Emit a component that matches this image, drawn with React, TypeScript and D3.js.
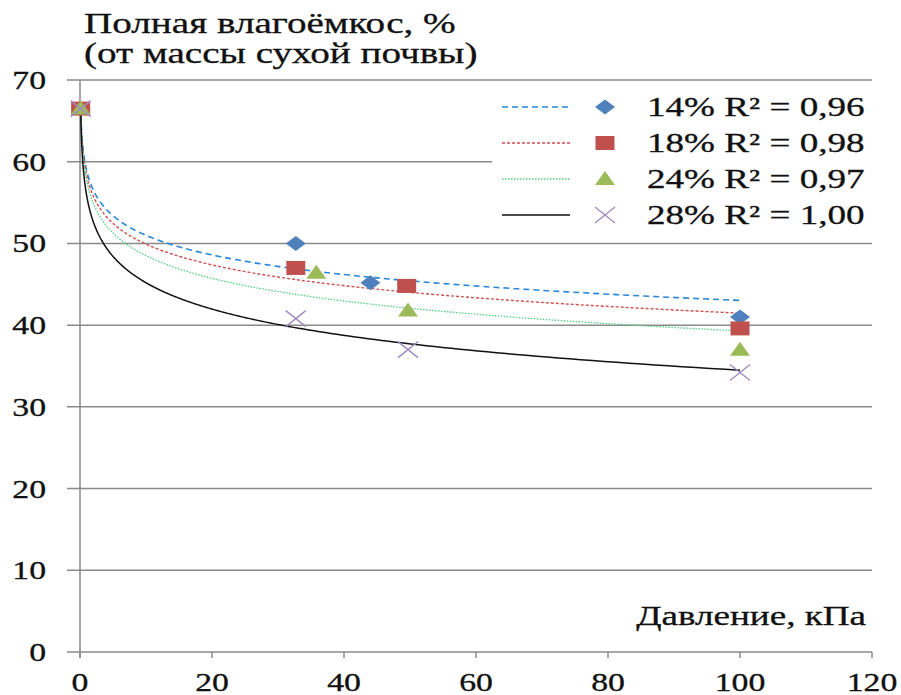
import * as d3 from 'd3'

// pressure, kPa (first point is the near-zero reading)
const pressure14 = [0.1, 32.7, 44, 100]
const pressure18 = [0.1, 32.7, 49.5, 100]
const pressure24 = [0.1, 35.8, 49.7, 100]
const pressure28 = [0.1, 32.7, 49.7, 100]

const moisture14 = [66.5, 50, 45.2, 41]
const moisture18 = [66.5, 47, 44.8, 39.6]
const moisture24 = [66.5, 46.4, 41.8, 37]
const moisture28 = [66.5, 40.8, 37, 34.2]

const seriesLabels = ['14%', '18%', '24%', '28%']
const r2Labels = ['R² = 0,96', 'R² = 0,98', 'R² = 0,97', 'R² = 1,00']
const xTicks = [0, 20, 40, 60, 80, 100, 120]
const yTicks = [0, 10, 20, 30, 40, 50, 60, 70]

const W = 901
const H = 695
const SX = 1.35 // source picture is stretched horizontally
const FONT = 'Liberation Serif, Times New Roman, serif'

type Series = {
  xs: number[]
  ys: number[]
  line: string
  dash: string
  width: number
  marker: 'diamond' | 'square' | 'triangle' | 'cross'
  fill: string
}

const series: Series[] = [
  { xs: pressure14, ys: moisture14, line: '#2a86d6', dash: '6 4', width: 1.6, marker: 'diamond', fill: '#4f81bd' },
  { xs: pressure18, ys: moisture18, line: '#d0504d', dash: '3 2', width: 1.4, marker: 'square', fill: '#c0504d' },
  { xs: pressure24, ys: moisture24, line: '#4fcf7d', dash: '1.5 1.5', width: 1.3, marker: 'triangle', fill: '#9bbb59' },
  { xs: pressure28, ys: moisture28, line: '#111111', dash: '', width: 1.5, marker: 'cross', fill: '#a08cc0' },
]

// logarithmic trend (least squares on ln x)
function logFit(xs: number[], ys: number[]) {
  const lx = xs.map(Math.log)
  const mx = d3.mean(lx)!
  const my = d3.mean(ys)!
  const sxy = d3.sum(lx, (v, i) => (v - mx) * (ys[i] - my))
  const sxx = d3.sum(lx, v => (v - mx) ** 2)
  const a = sxy / sxx
  const b = my - a * mx
  return (x: number) => a * Math.log(x) + b
}

function Marker({ kind, x, y, fill }: { kind: Series['marker']; x: number; y: number; fill: string }) {
  if (kind === 'diamond') {
    return <path d={`M${x},${y - 7.5} L${x + 10},${y} L${x},${y + 7.5} L${x - 10},${y} Z`} fill={fill} />
  }
  if (kind === 'square') {
    return <rect x={x - 9.5} y={y - 7} width={19} height={14} fill={fill} />
  }
  if (kind === 'triangle') {
    return <path d={`M${x},${y - 8} L${x + 10},${y + 6} L${x - 10},${y + 6} Z`} fill={fill} />
  }
  return (
    <g stroke={fill} strokeWidth={1.4}>
      <line x1={x - 10} y1={y - 8} x2={x + 10} y2={y + 8} />
      <line x1={x - 10} y1={y + 8} x2={x + 10} y2={y - 8} />
    </g>
  )
}

function Txt({ x, y, anchor = 'start', size, children }: { x: number; y: number; anchor?: string; size: number; children: React.ReactNode }) {
  return (
    <text
      transform={`translate(${x},${y}) scale(${SX},1)`}
      textAnchor={anchor}
      style={{ fontFamily: FONT, fontSize: size }}
      fill="#111"
      stroke="#111"
      strokeWidth={0.3}
    >
      {children}
    </text>
  )
}

export default function App() {
  const xScale = d3.scaleLinear().domain([0, 120]).range([80, 872])
  const yScale = d3.scaleLinear().domain([0, 70]).range([652, 80])

  const line = d3.line<[number, number]>().x(d => xScale(d[0])).y(d => yScale(d[1]))

  const curves = series.map(s => {
    const f = logFit(s.xs, s.ys)
    const lo = d3.min(s.xs)!
    const hi = d3.max(s.xs)!
    const samples = d3.range(0, 301).map(i => {
      const x = Math.exp(Math.log(lo) + (Math.log(hi) - Math.log(lo)) * (i / 300))
      return [x, f(x)] as [number, number]
    })
    return line(samples) ?? ''
  })

  const legendX = 502
  const legendY0 = 107
  const legendStep = 36

  return (
    <svg width={W} height={H} style={{ position: 'absolute', left: 0, top: 0, background: '#fff' }}>
      <rect width={W} height={H} fill="#fff" />

      {/* grid */}
      {yTicks.filter(t => t > 0).map(t => (
        <line key={t} x1={67} x2={xScale(120)} y1={yScale(t)} y2={yScale(t)} stroke="#8a8a8a" strokeWidth={1.5} />
      ))}

      {/* axes */}
      <line x1={67} x2={xScale(120)} y1={yScale(0)} y2={yScale(0)} stroke="#8a8a8a" strokeWidth={1.5} />
      <line x1={xScale(0)} x2={xScale(0)} y1={yScale(70)} y2={yScale(0) + 6} stroke="#8a8a8a" strokeWidth={1.5} />
      {xTicks.map(t => (
        <line key={t} x1={xScale(t)} x2={xScale(t)} y1={yScale(0)} y2={yScale(0) + 6} stroke="#8a8a8a" strokeWidth={1.5} />
      ))}

      {/* trend lines */}
      {series.map((s, i) => (
        <path key={i} d={curves[i]} fill="none" stroke={s.line} strokeWidth={s.width} strokeDasharray={s.dash || undefined} />
      ))}

      {/* points */}
      {series.map((s, i) => (
        <g key={i}>
          {s.xs.map((x, j) => (
            <Marker key={j} kind={s.marker} x={xScale(x)} y={yScale(s.ys[j])} fill={s.fill} />
          ))}
        </g>
      ))}

      {/* tick labels */}
      {yTicks.map(t => (
        <Txt key={t} x={46} y={yScale(t) + 9} anchor="end" size={25}>{t}</Txt>
      ))}
      {xTicks.map(t => (
        <Txt key={t} x={xScale(t)} y={691} anchor="middle" size={25}>{t}</Txt>
      ))}

      {/* legend */}
      <rect x={492} y={88} width={400} height={146} fill="#fff" />
      {series.map((s, i) => {
        const y = legendY0 + i * legendStep
        return (
          <g key={i}>
            <line x1={legendX} x2={legendX + 68} y1={y} y2={y} stroke={s.line} strokeWidth={s.width} strokeDasharray={s.dash || undefined} />
            <Marker kind={s.marker} x={605} y={y} fill={s.fill} />
            <Txt x={647} y={y + 9} size={27.5}>
              {seriesLabels[i] + (i === 3 ? '  ' : ' ') + r2Labels[i]}
            </Txt>
          </g>
        )
      })}

      {/* titles */}
      <Txt x={84} y={33} size={29}>Полная влагоёмкос, %</Txt>
      <Txt x={84} y={63} size={29}>(от массы сухой почвы)</Txt>
      <Txt x={866} y={625} anchor="end" size={27.5}>Давление, кПа</Txt>
    </svg>
  )
}
